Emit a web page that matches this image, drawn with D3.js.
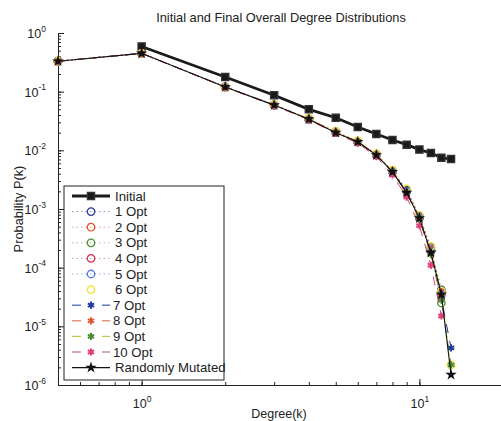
<!DOCTYPE html>
<html>
<head>
<meta charset="utf-8">
<script src="https://cdn.jsdelivr.net/npm/d3@7"></script>
<style>
  body { margin: 0; background: #fff; }
  svg { font-family: "Liberation Sans", Arial, sans-serif; }
</style>
</head>
<body>
<div id="chart"></div>
<script>
// Degrees (k) and probabilities P(k)
var degreeInitial = [1, 2, 3, 4, 5, 6, 7, 8, 9, 10, 11, 12, 13];
var degreeOpt = [0.5, 1, 2, 3, 4, 5, 6, 7, 8, 9, 10, 11, 12, 13];

var pInitial = [0.59, 0.178, 0.087, 0.050, 0.036, 0.025, 0.019, 0.015, 0.0125, 0.0103, 0.0090, 0.0075, 0.0071];
var pOpt1  = [0.33, 0.45, 0.121, 0.060, 0.034, 0.0205, 0.0142, 0.0086, 0.0045, 0.0021, 7.6e-4, 2.2e-4, 4.2e-5];
var pOpt2  = [0.33, 0.45, 0.120, 0.060, 0.035, 0.0210, 0.0140, 0.0085, 0.0044, 0.0020, 7.2e-4, 2.0e-4, 3.8e-5];
var pOpt3  = [0.33, 0.45, 0.120, 0.059, 0.034, 0.0200, 0.0138, 0.0083, 0.0043, 0.0020, 7.0e-4, 1.9e-4, 2.5e-5];
var pOpt4  = [0.33, 0.45, 0.121, 0.059, 0.034, 0.0200, 0.0140, 0.0084, 0.0044, 0.0020, 7.3e-4, 2.0e-4, 3.6e-5];
var pOpt5  = [0.33, 0.45, 0.120, 0.059, 0.034, 0.0202, 0.0140, 0.0083, 0.0043, 0.0020, 7.1e-4, 1.9e-4, 3.4e-5];
var pOpt6  = [0.33, 0.45, 0.120, 0.060, 0.035, 0.0210, 0.0145, 0.0088, 0.0046, 0.0022, 7.8e-4, 2.3e-4, 4.0e-5, 2.2e-6];
var pOpt7  = [0.33, 0.45, 0.120, 0.059, 0.034, 0.0200, 0.0140, 0.0083, 0.0043, 0.0019, 6.8e-4, 1.8e-4, 3.0e-5, 4.3e-6];
var pOpt8  = [0.33, 0.45, 0.120, 0.059, 0.034, 0.0205, 0.0140, 0.0084, 0.0042, 0.0019, 6.8e-4, 1.7e-4, 3.2e-5];
var pOpt9  = [0.33, 0.45, 0.120, 0.059, 0.034, 0.0200, 0.0138, 0.0082, 0.0042, 0.0019, 6.7e-4, 1.7e-4, 2.8e-5, 2.2e-6];
var pOpt10 = [0.33, 0.45, 0.119, 0.058, 0.033, 0.0195, 0.0132, 0.0078, 0.0038, 0.0016, 5.2e-4, 1.1e-4, 1.5e-5];
var pMutated = [0.33, 0.45, 0.120, 0.059, 0.034, 0.0200, 0.0140, 0.0083, 0.0043, 0.0019, 7.0e-4, 1.8e-4, 3.5e-5, 1.5e-6];

var seriesNames = ["Initial", "1 Opt", "2 Opt", "3 Opt", "4 Opt", "5 Opt", "6 Opt",
                   "7 Opt", "8 Opt", "9 Opt", "10 Opt", "Randomly Mutated"];
var yTickExps = [0, -1, -2, -3, -4, -5, -6];
var xTickExps = [0, 1];

// series table built from the arrays above (style per series)
var series = [
  {name: seriesNames[0],  x: degreeInitial, y: pInitial, color: "#1a1a1a", line: "#1a1a1a", dash: null, width: 2.8, marker: "square"},
  {name: seriesNames[1],  x: degreeOpt, y: pOpt1,  color: "#2b3a9c", line: "#8890c0", dash: "1.5,3", width: 1, marker: "circle"},
  {name: seriesNames[2],  x: degreeOpt, y: pOpt2,  color: "#e2532f", line: "#e8a090", dash: "1.5,3", width: 1, marker: "circle"},
  {name: seriesNames[3],  x: degreeOpt, y: pOpt3,  color: "#4f9234", line: "#a8c898", dash: "1.5,3", width: 1, marker: "circle"},
  {name: seriesNames[4],  x: degreeOpt, y: pOpt4,  color: "#d23352", line: "#d898a8", dash: "1.5,3", width: 1, marker: "circle"},
  {name: seriesNames[5],  x: degreeOpt, y: pOpt5,  color: "#5578e0", line: "#a0b4e8", dash: "1.5,3", width: 1, marker: "circle"},
  {name: seriesNames[6],  x: degreeOpt, y: pOpt6,  color: "#f2e430", line: "#f6f0a8", dash: "1.5,3", width: 1, marker: "circle"},
  {name: seriesNames[7],  x: degreeOpt, y: pOpt7,  color: "#1f3a9e", line: "#3a5ab0", dash: "9,8", width: 1, marker: "asterisk"},
  {name: seriesNames[8],  x: degreeOpt, y: pOpt8,  color: "#e05a36", line: "#e07a5a", dash: "9,8", width: 1, marker: "asterisk"},
  {name: seriesNames[9],  x: degreeOpt, y: pOpt9,  color: "#4c8c36", line: "#c8c850", dash: "9,8", width: 1, marker: "asterisk"},
  {name: seriesNames[10], x: degreeOpt, y: pOpt10, color: "#e0407a", line: "#c07090", dash: "9,8", width: 1, marker: "asterisk"},
  {name: seriesNames[11], x: degreeOpt, y: pMutated, color: "#111", line: "#111", dash: null, width: 1.1, marker: "star"}
];

var W = 501, H = 421;
var margin = {top: 33, right: -2, bottom: 36, left: 58},
    width = W - margin.left - margin.right,
    height = H - margin.top - margin.bottom;

var svg = d3.select("#chart")
  .append("svg")
  .attr("width", W)
  .attr("height", H);

var g = svg.append("g")
  .attr("transform", "translate(" + margin.left + "," + margin.top + ")");

var x = d3.scaleLog().domain([0.5, 20]).range([0, width]);
var y = d3.scaleLog().domain([1e-6, 1]).range([height, 0]);

// minor ticks (inward, MATLAB style)
g.append("g")
  .call(d3.axisLeft(y).tickValues(y.ticks()).tickSize(-3).tickFormat(""))
  .call(function(s) { s.select(".domain").remove(); });
g.append("g")
  .attr("transform", "translate(0," + height + ")")
  .call(d3.axisBottom(x).tickValues(x.ticks()).tickSize(-3).tickFormat(""))
  .call(function(s) { s.select(".domain").remove(); });

// major axes
var yAxis = g.append("g")
  .call(d3.axisLeft(y).tickValues(yTickExps.map(function(e) { return Math.pow(10, e); }))
    .tickSize(-6).tickSizeOuter(0).tickPadding(8));
var xAxis = g.append("g")
  .attr("transform", "translate(0," + height + ")")
  .call(d3.axisBottom(x).tickValues(xTickExps.map(function(e) { return Math.pow(10, e); }))
    .tickSize(-6).tickSizeOuter(0).tickPadding(14));

g.selectAll(".tick line, .domain").attr("stroke", "#222").attr("stroke-width", 1);

// tick labels as 10^n with superscripts
yAxis.selectAll(".tick text")
  .attr("font-size", 12.5)
  .attr("fill", "#222")
  .attr("dy", "0.35em")
  .attr("x", -12)
  .each(function(d) {
    var t = d3.select(this).text("10");
    t.append("tspan").attr("dy", "-0.75em").attr("font-size", 8.5)
      .text(Math.round(Math.log10(d)));
  });
xAxis.selectAll(".tick text")
  .attr("font-size", 12.5)
  .attr("fill", "#222")
  .attr("text-anchor", "middle")
  .each(function(d) {
    var t = d3.select(this).text("10");
    t.append("tspan").attr("dy", "-0.75em").attr("font-size", 8.5)
      .text(Math.round(Math.log10(d)));
  });

function symbolFor(m) {
  if (m === "square") return d3.symbol().type(d3.symbolSquare).size(52);
  if (m === "circle") return d3.symbol().type(d3.symbolCircle).size(44);
  if (m === "asterisk") return d3.symbol().type(d3.symbolAsterisk).size(36);
  return d3.symbol().type(d3.symbolStar).size(17);
}

function drawMarker(sel, s) {
  var filled = s.marker === "square" || s.marker === "star";
  sel.attr("d", symbolFor(s.marker)())
    .attr("fill", filled ? s.color : "none")
    .attr("stroke", s.marker === "square" ? "#333" : s.color)
    .attr("stroke-width", s.marker === "asterisk" ? 2 : 1.3);
}

var line = d3.line()
  .x(function(d) { return x(d[0]); })
  .y(function(d) { return y(d[1]); });

series.forEach(function(s) {
  var pts = s.y.map(function(v, i) { return [s.x[i], v]; });
  g.append("path")
    .datum(pts)
    .attr("fill", "none")
    .attr("stroke", s.marker === "square" || s.marker === "star" ? s.line : s.color)
    .attr("stroke-width", s.width)
    .attr("stroke-dasharray", s.dash)
    .attr("d", line);
  g.append("g").selectAll("path")
    .data(pts)
    .join("path")
    .attr("transform", function(d) { return "translate(" + x(d[0]) + "," + y(d[1]) + ")"; })
    .call(drawMarker, s);
});

// title and axis labels
svg.append("text")
  .attr("x", 281).attr("y", 22)
  .attr("text-anchor", "middle")
  .attr("font-size", 12.8)
  .attr("fill", "#222")
  .text("Initial and Final Overall Degree Distributions");

svg.append("text")
  .attr("x", 279).attr("y", 418)
  .attr("text-anchor", "middle")
  .attr("font-size", 12.5)
  .attr("fill", "#222")
  .text("Degree(k)");

svg.append("text")
  .attr("transform", "translate(23," + (margin.top + height / 2) + ") rotate(-90)")
  .attr("text-anchor", "middle")
  .attr("font-size", 12.8)
  .attr("fill", "#222")
  .text("Probability P(k)");

// legend
var legend = svg.append("g").attr("transform", "translate(64,186)");
legend.append("rect")
  .attr("width", 160).attr("height", 194)
  .attr("fill", "#fff")
  .attr("stroke", "#222")
  .attr("stroke-width", 1);

var rowH = 15.6;
series.forEach(function(s, i) {
  var row = legend.append("g").attr("transform", "translate(0," + (10 + i * rowH) + ")");
  if (s.dash === "9,8") {
    row.append("line").attr("x1", 8).attr("x2", 17).attr("stroke", s.line).attr("stroke-width", 1.2);
    row.append("line").attr("x1", 38).attr("x2", 46).attr("stroke", s.line).attr("stroke-width", 1.2);
  } else if (i !== 6) {
    row.append("line").attr("x1", 8).attr("x2", 46)
      .attr("stroke", s.line)
      .attr("stroke-width", s.width)
      .attr("stroke-dasharray", s.dash);
  }
  row.append("path").attr("transform", "translate(27,0)").call(drawMarker, s);
  row.append("text")
    .attr("x", s.dash === "9,8" ? 49 : 51).attr("dy", "0.35em")
    .attr("font-size", 13.2)
    .attr("fill", "#222")
    .text(s.name);
});
</script>
</body>
</html>
